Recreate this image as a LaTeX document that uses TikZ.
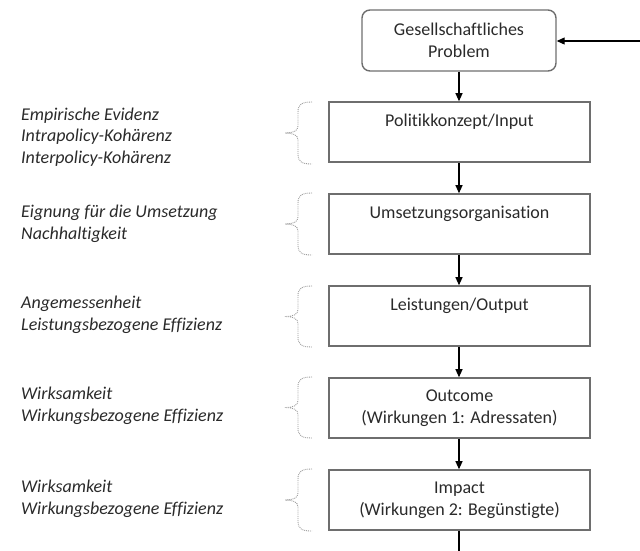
\documentclass[tikz,border=0pt]{standalone}
\usepackage{fontspec}
\setmainfont{Carlito}[Ligatures=NoCommon]
\usetikzlibrary{arrows.meta}
\definecolor{boxline}{HTML}{6E6E6E}
\definecolor{txt}{HTML}{2A2A2A}
\definecolor{bracecol}{HTML}{9A9A9A}
\tikzset{
  stepbox/.style={draw=boxline, line width=1.6pt, minimum width=261pt, minimum height=60pt, inner sep=0pt},
  topbox/.style={draw=boxline, line width=1.4pt, rounded corners=8pt, minimum width=194pt, minimum height=61pt,
    align=center, text=txt, font=\fontsize{18}{22}\selectfont},
  boxtext/.style={anchor=north, yshift=-9pt, align=center, text=txt, font=\fontsize{18}{22}\selectfont},
  crit/.style={anchor=west, align=left, inner sep=0pt, text=txt, font=\fontsize{18}{21.5}\selectfont\itshape},
  flow/.style={-{Triangle[length=8pt,width=7pt]}, line width=1.1pt, black},
  bracepath/.style={draw=bracecol, line width=0.9pt, densely dotted},
}
% left curly brace spanning #1 (top y) to #2 (bottom y)
\newcommand{\critbrace}[2]{%
  \path[bracepath] (312,#1) .. controls (302,#1) and (298,#1+2) .. (298,#1+10)
    -- (298,{(#1+#2)/2-7}) .. controls (298,{(#1+#2)/2-2}) and (293,{(#1+#2)/2}) .. (285,{(#1+#2)/2})
    .. controls (293,{(#1+#2)/2}) and (298,{(#1+#2)/2+2}) .. (298,{(#1+#2)/2+7})
    -- (298,#2-10) .. controls (298,#2-2) and (302,#2) .. (312,#2);}
\begin{document}
\begin{tikzpicture}[x=1pt,y=-1pt]
\useasboundingbox (0,0) rectangle (640,550);

\node[topbox] (prob) at (459,40.5) {Gesellschaftliches\\Problem};

\node[stepbox, label={[boxtext]north:Politikkonzept/Input}] (input) at (459.5,132) {};
\node[stepbox, label={[boxtext]north:Umsetzungsorganisation}] (org) at (459.5,224) {};
\node[stepbox, label={[boxtext]north:Leistungen/Output}] (output) at (459.5,316) {};
\node[stepbox, label={[boxtext]north:Outcome\\(Wirkungen 1: Adressaten)}] (outcome) at (459.5,408) {};
\node[stepbox, label={[boxtext]north:Impact\\(Wirkungen 2: Begünstigte)}] (impact) at (459.5,500) {};

\coordinate (feed) at (641,41);
\coordinate (down) at (459,551);

\draw[flow] (feed) -- (prob.east |- feed);
\draw[flow] (prob.south -| 459,0) -- (input.north -| 459,0);
\draw[flow] (input.south -| 459,0) -- (org.north -| 459,0);
\draw[flow] (org.south -| 459,0) -- (output.north -| 459,0);
\draw[flow] (output.south -| 459,0) -- (outcome.north -| 459,0);
\draw[flow] (outcome.south -| 459,0) -- (impact.north -| 459,0);
\draw[line width=1.1pt] (impact.south -| 459,0) -- (down);

\critbrace{102}{164}
\critbrace{193}{255}
\critbrace{286}{347}
\critbrace{377}{438}
\critbrace{469}{531}

\node[crit] (c1) at (21,137) {Empirische Evidenz\\Intrapolicy-Kohärenz\\Interpolicy-Kohärenz};
\node[crit] (c2) at (21,224) {Eignung für die Umsetzung\\Nachhaltigkeit};
\node[crit] (c3) at (21,315) {Angemessenheit\\Leistungsbezogene Effizienz};
\node[crit] (c4) at (21,406) {Wirksamkeit\\Wirkungsbezogene Effizienz};
\node[crit] (c5) at (21,499) {Wirksamkeit\\Wirkungsbezogene Effizienz};
\end{tikzpicture}
\end{document}
